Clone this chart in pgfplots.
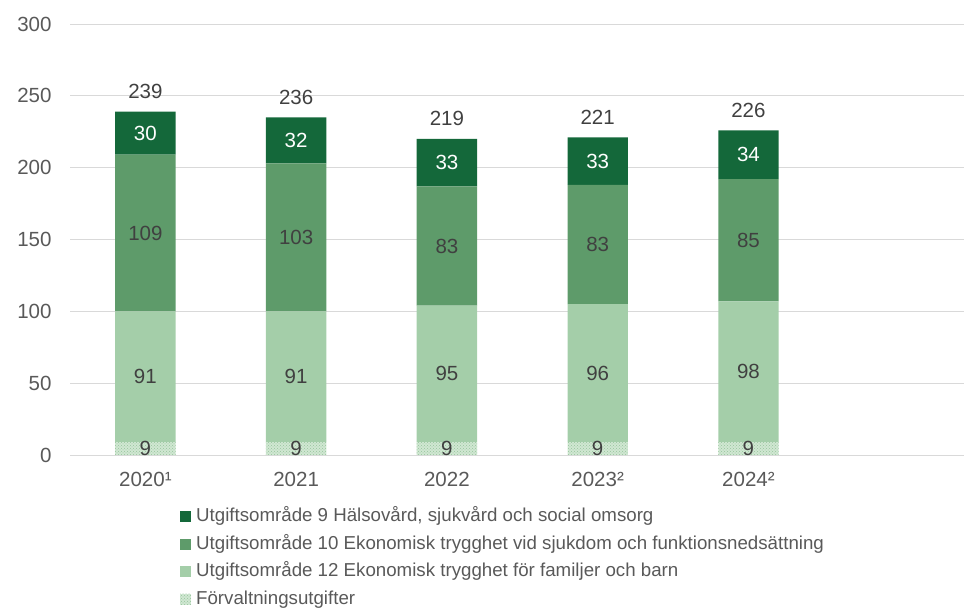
\documentclass[border=0pt]{standalone}
\usepackage{fontspec}
\setmainfont{Liberation Sans}
\usepackage{pgfplots}
\pgfplotsset{compat=1.18}
\usetikzlibrary{patterns}

\definecolor{ug9}{RGB}{20,104,58}
\definecolor{ug10}{RGB}{94,155,106}
\definecolor{ug12}{RGB}{164,206,169}
\definecolor{forv}{RGB}{208,231,210}
\definecolor{forvdot}{RGB}{150,196,156}
\definecolor{txt}{RGB}{89,89,89}
\definecolor{lbl}{RGB}{64,64,64}
\definecolor{gridc}{RGB}{217,217,217}

\newcommand{\tickfont}{\fontsize{20.5}{24}\selectfont}
\pgfplotsset{
  base/.style={scale only axis, width=894pt, height=431pt,
    at={(70pt,-455pt)}, anchor=south west,
    xmin=-0.5, xmax=5.43, ymin=0, ymax=300},
  sq/.style={legend image code/.code={\path[##1, draw=none] (0pt,-5.5pt) rectangle (11pt,5.5pt);}},
  lab/.style={only marks, mark=none, nodes near coords, point meta=explicit symbolic,
    nodes near coords style={anchor=center, inner sep=0pt, font=\tickfont, text=#1}},
}

\begin{document}
\begin{tikzpicture}
\begin{axis}[base, ybar stacked, bar width=0.4,
  axis x line*=bottom, axis y line*=left,
  x axis line style={-, draw=gridc, line width=0.8pt},
  y axis line style={draw=none},
  ytick={0,50,...,300}, xtick={0,...,4},
  xticklabels={2020¹,2021,2022,2023²,2024²},
  major tick length=0pt,
  ymajorgrids, major grid style={draw=gridc, line width=0.8pt},
  /pgf/number format/assume math mode=true,
  tick label style={font=\tickfont, text=txt},
  xticklabel style={yshift=-14pt}, yticklabel style={xshift=-15pt},
  reverse legend, legend cell align=left,
  legend style={at={(0.123,-0.123)}, anchor=north west, draw=none, fill=none,
    inner sep=0pt, font=\fontsize{18.7}{22}\selectfont, text=txt,
    row sep=10pt, column sep=5pt,
    nodes={inner sep=0pt, text height=13.5pt, text depth=4pt, anchor=west}},
]
\addplot[sq, fill=forv, draw=none, postaction={pattern=crosshatch dots, pattern color=forvdot}]
  coordinates {(0,9)(1,9)(2,9)(3,9)(4,9)};
\addlegendentry{Förvaltningsutgifter}
\addplot[sq, fill=ug12, draw=none]
  coordinates {(0,91)(1,91)(2,95)(3,96)(4,98)};
\addlegendentry{Utgiftsområde 12 Ekonomisk trygghet för familjer och barn}
\addplot[sq, fill=ug10, draw=none]
  coordinates {(0,109)(1,103)(2,83)(3,83)(4,85)};
\addlegendentry{Utgiftsområde 10 Ekonomisk trygghet vid sjukdom och funktionsnedsättning}
\addplot[sq, fill=ug9, draw=none]
  coordinates {(0,30)(1,32)(2,33)(3,33)(4,34)};
\addlegendentry{Utgiftsområde 9 Hälsovård, sjukvård och social omsorg}
\end{axis}

% labels (segment midpoints and totals)
\begin{axis}[base, hide axis, clip=false]
\addplot[lab=lbl] coordinates {(0,4.5)[9] (1,4.5)[9] (2,4.5)[9] (3,4.5)[9] (4,4.5)[9]};
\addplot[lab=lbl] coordinates {(0,54.5)[91] (1,54.5)[91] (2,56.5)[95] (3,57)[96] (4,58)[98]};
\addplot[lab=lbl] coordinates {(0,154.5)[109] (1,151.5)[103] (2,145.5)[83] (3,146.5)[83] (4,149.5)[85]};
\addplot[lab=white] coordinates {(0,224)[30] (1,219)[32] (2,203.5)[33] (3,204.5)[33] (4,209)[34]};
\addplot[lab=lbl, nodes near coords style={anchor=base, yshift=13pt}]
  coordinates {(0,239)[239] (1,235)[236] (2,220)[219] (3,221)[221] (4,226)[226]};
\end{axis}
\pgfresetboundingbox
\path[use as bounding box] (0pt,0pt) rectangle (964pt,-609pt);
\end{tikzpicture}
\end{document}
